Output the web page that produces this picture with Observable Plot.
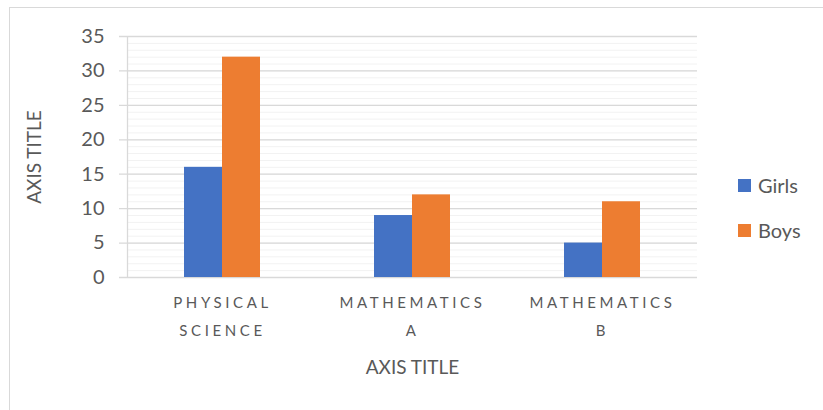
<!DOCTYPE html>
<html>
<head>
<meta charset="utf-8">
<script src="https://cdn.jsdelivr.net/npm/d3@7"></script>
<script src="https://cdn.jsdelivr.net/npm/@observablehq/plot@0.6"></script>
<style>
  body { margin: 0; background: #fff; }
  #wrap { position: relative; width: 823px; height: 410px; overflow: hidden; font-family: Lato, "Open Sans", sans-serif; }
  #border { position: absolute; left: 9px; top: 7px; width: 900px; height: 500px; border-left: 1.5px solid #D9D9D9; border-top: 1.5px solid #D9D9D9; pointer-events: none; }
  #legend { position: absolute; left: 738px; top: 173px; color: #595959; font-size: 20px; }
  .item { display: flex; align-items: center; height: 24px; margin-bottom: 21px; }
  .sw { width: 13px; height: 13px; margin-right: 7px; }
</style>
</head>
<body>
<div id="wrap">
  <div id="chart"></div>
  <div id="border"></div>
  <div id="legend"></div>
</div>
<script>
const categories = ["Physical Science", "Mathematics A", "Mathematics B"];
const series = ["Girls", "Boys"];
const girls = [16, 9, 5];
const boys = [32, 12, 11];
const colors = ["#4472C4", "#ED7D31"];
const majorTicks = [0, 5, 10, 15, 20, 25, 30, 35];
const minorTicks = d3.range(0, 36, 1);
const axisTitleX = "AXIS TITLE";
const axisTitleY = "AXIS TITLE";

const girlsData = categories.map((c, i) => ({category: c, value: girls[i]}));
const boysData = categories.map((c, i) => ({category: c, value: boys[i]}));

function fmtCat(c) {
  const s = c.toUpperCase();
  const k = s.lastIndexOf(" ");
  return s.slice(0, k) + "\n" + s.slice(k + 1);
}

const plot = Plot.plot({
  width: 823,
  height: 410,
  marginLeft: 127,
  marginRight: 126,
  marginTop: 36,
  marginBottom: 133,
  style: {fontFamily: "Lato, 'Open Sans', sans-serif", background: "transparent"},
  x: {type: "band", domain: categories, padding: 0, axis: null},
  y: {domain: [0, 35], axis: null},
  marks: [
    Plot.ruleY(minorTicks, {stroke: "#F2F2F2", strokeWidth: 1}),
    Plot.ruleY(majorTicks, {stroke: "#D9D9D9", strokeWidth: 1.3, insetLeft: -8}),
    Plot.ruleX([0], {x: () => categories[0], stroke: "#D9D9D9", strokeWidth: 1.3, dx: -95}),
    Plot.barY(girlsData, {x: "category", y: "value", fill: colors[0], insetLeft: 57, insetRight: 95}),
    Plot.barY(boysData, {x: "category", y: "value", fill: colors[1], insetLeft: 95, insetRight: 57}),
    Plot.axisY(majorTicks, {tickSize: 0, tickPadding: 23, fontSize: 20, fill: "#595959", label: null}),
    Plot.text(categories, {x: d => d, text: d => fmtCat(d), frameAnchor: "bottom", dy: 10, lineAnchor: "top", lineHeight: 1.9, fontSize: 15, fill: "#595959"}),
    Plot.text([axisTitleX], {frameAnchor: "bottom", lineAnchor: "middle", textAnchor: "middle", dy: 90, fontSize: 19, fill: "#595959"}),
    Plot.text([axisTitleY], {frameAnchor: "left", textAnchor: "middle", lineAnchor: "middle", dx: -93, rotate: -90, fontSize: 19, fill: "#595959"})
  ]
});

document.getElementById("chart").appendChild(plot);

// letter spacing for category labels
d3.select(plot).selectAll("text").each(function() {
  const t = this.textContent;
  if (/PHYSICAL|MATHEMATICS/.test(t)) d3.select(this).attr("letter-spacing", "3.6px");
});

const legend = document.getElementById("legend");
series.forEach((s, i) => {
  const item = document.createElement("div");
  item.className = "item";
  const sw = document.createElement("div");
  sw.className = "sw";
  sw.style.background = colors[i];
  const lab = document.createElement("span");
  lab.textContent = s;
  item.appendChild(sw);
  item.appendChild(lab);
  legend.appendChild(item);
});
</script>
</body>
</html>
